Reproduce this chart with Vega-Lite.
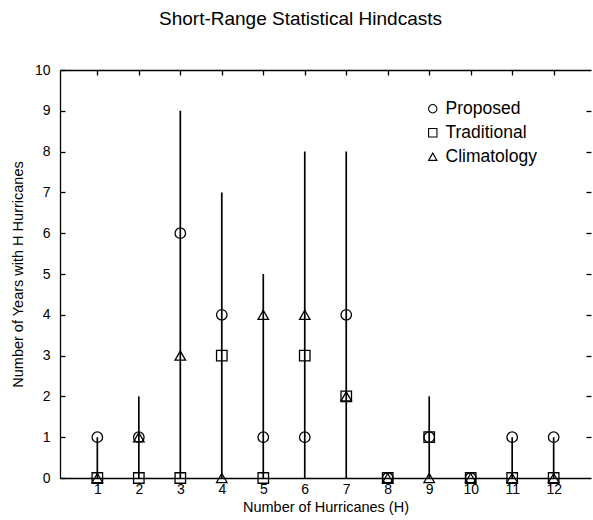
{
  "$schema": "https://vega.github.io/schema/vega-lite/v6.json",
  "width": 531,
  "height": 408,
  "autosize": {"type": "none"},
  "padding": {"left": 60, "top": 70, "right": 2, "bottom": 42},
  "config": {
    "font": "Liberation Sans",
    "view": {"stroke": null},
    "axis": {"domainColor": "black", "tickColor": "black", "labelColor": "black", "titleColor": "black", "grid": false, "domainWidth": 1.3, "tickWidth": 1.3}
  },
  "title": {"text": "Short-Range Statistical Hindcasts", "fontSize": 19, "fontWeight": "normal", "color": "black", "anchor": "middle", "offset": 34, "dx": -25},
  "datasets": {
    "points": [
      {"H": 1, "method": "Proposed", "value": 1}, {"H": 1, "method": "Traditional", "value": 0}, {"H": 1, "method": "Climatology", "value": 0},
      {"H": 2, "method": "Proposed", "value": 1}, {"H": 2, "method": "Traditional", "value": 0}, {"H": 2, "method": "Climatology", "value": 1},
      {"H": 3, "method": "Proposed", "value": 6}, {"H": 3, "method": "Traditional", "value": 0}, {"H": 3, "method": "Climatology", "value": 3},
      {"H": 4, "method": "Proposed", "value": 4}, {"H": 4, "method": "Traditional", "value": 3}, {"H": 4, "method": "Climatology", "value": 0},
      {"H": 5, "method": "Proposed", "value": 1}, {"H": 5, "method": "Traditional", "value": 0}, {"H": 5, "method": "Climatology", "value": 4},
      {"H": 6, "method": "Proposed", "value": 1}, {"H": 6, "method": "Traditional", "value": 3}, {"H": 6, "method": "Climatology", "value": 4},
      {"H": 7, "method": "Proposed", "value": 4}, {"H": 7, "method": "Traditional", "value": 2}, {"H": 7, "method": "Climatology", "value": 2},
      {"H": 8, "method": "Proposed", "value": 0}, {"H": 8, "method": "Traditional", "value": 0}, {"H": 8, "method": "Climatology", "value": 0},
      {"H": 9, "method": "Proposed", "value": 1}, {"H": 9, "method": "Traditional", "value": 1}, {"H": 9, "method": "Climatology", "value": 0},
      {"H": 10, "method": "Proposed", "value": 0}, {"H": 10, "method": "Traditional", "value": 0}, {"H": 10, "method": "Climatology", "value": 0},
      {"H": 11, "method": "Proposed", "value": 1}, {"H": 11, "method": "Traditional", "value": 0}, {"H": 11, "method": "Climatology", "value": 0},
      {"H": 12, "method": "Proposed", "value": 1}, {"H": 12, "method": "Traditional", "value": 0}, {"H": 12, "method": "Climatology", "value": 0}
    ],
    "ranges": [
      {"H": 1, "max": 1}, {"H": 2, "max": 2}, {"H": 3, "max": 9}, {"H": 4, "max": 7},
      {"H": 5, "max": 5}, {"H": 6, "max": 8}, {"H": 7, "max": 8}, {"H": 9, "max": 2},
      {"H": 11, "max": 1}, {"H": 12, "max": 1}
    ]
  },
  "layer": [
    {
      "data": {"name": "ranges"},
      "mark": {"type": "rule", "color": "black", "strokeWidth": 1.7},
      "encoding": {
        "x": {"field": "H", "type": "quantitative", "scale": {"domain": [0.1, 12.9], "nice": false, "zero": false},
          "axis": {"orient": "bottom", "values": [1,2,3,4,5,6,7,8,9,10,11,12], "ticks": false, "labelFontSize": 14, "labelPadding": 4, "title": "Number of Hurricanes (H)", "titleFontSize": 14.5, "titleFontWeight": "normal", "titlePadding": 4}},
        "y": {"field": "max", "type": "quantitative", "scale": {"domain": [0, 10], "nice": false},
          "axis": {"orient": "left", "values": [0,1,2,3,4,5,6,7,8,9,10], "tickSize": -5, "labelFontSize": 14, "labelPadding": 15, "title": "Number of Years with H Hurricanes", "titleFontSize": 14.5, "titleFontWeight": "normal", "titlePadding": 9}},
        "y2": {"datum": 0}
      }
    },
    {
      "data": {"name": "points"},
      "mark": {"type": "point", "filled": false, "color": "black", "strokeWidth": 1.3, "size": 110, "opacity": 1},
      "encoding": {
        "x": {"field": "H", "type": "quantitative", "axis": null},
        "y": {"field": "value", "type": "quantitative", "axis": null},
        "shape": {"field": "method", "type": "nominal",
          "scale": {"domain": ["Proposed", "Traditional", "Climatology"], "range": ["circle", "square", "triangle-up"]},
          "legend": {"title": null, "orient": "none", "legendX": 364, "legendY": 30, "labelFontSize": 17.5, "labelColor": "black", "symbolSize": 70, "symbolStrokeColor": "black", "symbolStrokeWidth": 1.1, "rowPadding": 5, "labelOffset": 4}}
      }
    },
    {
      "data": {"name": "ranges"},
      "mark": {"type": "point", "opacity": 0},
      "encoding": {
        "x": {"field": "H", "type": "quantitative",
          "axis": {"orient": "top", "values": [1,2,3,4,5,6,7,8,9,10,11,12], "labels": false, "tickSize": -5, "title": null}},
        "y": {"field": "max", "type": "quantitative",
          "axis": {"orient": "right", "values": [1,2,3,4,5,6,7,8,9], "labels": false, "domain": false, "tickSize": -5, "title": null}}
      }
    }
  ],
  "resolve": {"axis": {"x": "independent", "y": "independent"}}
}
